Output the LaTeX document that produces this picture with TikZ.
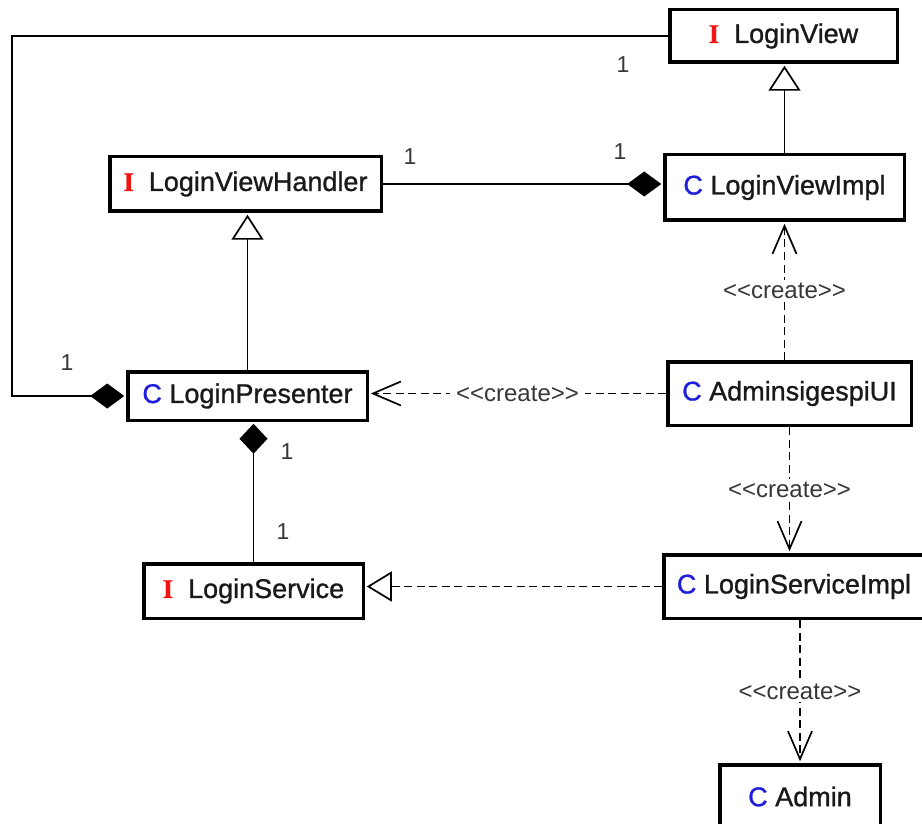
\documentclass[tikz,border=0pt]{standalone}
\usepackage{fontspec}
\setmainfont{Liberation Sans}
\newfontfamily\typefont{Liberation Sans}[FakeBold=1.0]
\newfontfamily\ifacefont{Liberation Serif}[FakeBold=0.6]
\usetikzlibrary{arrows.meta}

\definecolor{ink}{RGB}{25,25,25}
\definecolor{labelgray}{RGB}{55,55,55}
\definecolor{ifacered}{RGB}{240,20,20}
\definecolor{classblue}{RGB}{30,30,220}

% stereotype markers in front of the type names
\newcommand{\IfaceMark}{{\ifacefont\bfseries\color{ifacered}I}\hspace{0.55em}}
\newcommand{\ClassMark}{{\color{classblue}C} }
\newcommand{\CreateTag}{<\kern0pt<create>\kern0pt>}

\tikzset{
  umlbox/.style={draw=black, line width=3.5pt, fill=white, text=ink,
    font=\typefont\fontsize{27}{30}\selectfont, inner sep=0pt, align=center},
  mult/.style={text=labelgray, font=\fontsize{23}{26}\selectfont, inner sep=0pt},
  tag/.style={text=labelgray, fill=white, font=\fontsize{24}{26}\selectfont,
    inner xsep=6pt, inner ysep=3pt},
  conn/.style={line width=1.7pt, shorten >=1.75pt},
  comp/.style={conn, -{Diamond[length=34pt,width=25pt]}},
  vcomp/.style={conn, -{Diamond[length=30pt,width=28pt]}},
  inherit/.style={conn, -{Triangle[open,length=25pt,width=32pt]}},
  realize/.style={conn, dash pattern=on 8pt off 4.5pt, -{Triangle[open,length=25pt,width=30pt]}},
  dep/.style={conn, dash pattern=on 8pt off 4.5pt, -{Straight Barb[length=28pt,width=24pt]}},
}

\begin{document}
\begin{tikzpicture}[x=1pt,y=-1pt]
\useasboundingbox (0,0) rectangle (922,824);

% types
\node[umlbox, minimum width=227.5pt, minimum height=52.5pt] (view) at (783.5,36) {\IfaceMark LoginView};
\node[umlbox, minimum width=271.5pt, minimum height=54.5pt] (handler) at (245.5,184) {\IfaceMark LoginViewHandler};
\node[umlbox, minimum width=239.5pt, minimum height=65.5pt] (impl) at (784.5,187.5) {\ClassMark LoginViewImpl};
\node[umlbox, minimum width=239.5pt, minimum height=48.5pt] (presenter) at (247.5,396) {\ClassMark LoginPresenter};
\node[umlbox, minimum width=243.5pt, minimum height=63.5pt] (ui) at (789.5,393.5) {\ClassMark AdminsigespiUI};
\node[umlbox, minimum width=219.5pt, minimum height=54.5pt] (service) at (253.5,591) {\IfaceMark LoginService};
\node[umlbox, minimum width=260.5pt, minimum height=63.5pt] (serviceimpl) at (794,586.5) {\ClassMark LoginServiceImpl};
\node[umlbox, minimum width=160.5pt, minimum height=63.5pt] (admin) at (800,796.5) {\ClassMark Admin};

% composition LoginView -> LoginPresenter, routed round the left side
\coordinate (loopcorner) at (12,37);
\draw[comp] (view.west) -- (view.west -| loopcorner) -- (loopcorner |- presenter.west) -- (presenter.west);

% composition LoginViewHandler -> LoginViewImpl
\draw[comp] (handler.east) -- (handler.east -| impl.west);

% generalizations
\draw[inherit] (impl.north) -- (impl.north |- view.south);
\draw[inherit] (presenter.north) -- (presenter.north |- handler.south);

% composition LoginService -> LoginPresenter
\draw[vcomp] (service.north) -- (service.north |- presenter.south);

% realization LoginServiceImpl -> LoginService
\draw[realize] (serviceimpl.west) -- (serviceimpl.west -| service.east);

% creation dependencies
\draw[dep] (ui.north -| impl.south) -- node[tag] (c1) {\CreateTag} (impl.south);
\draw[dep] (ui.west) -- node[tag] (c2) {\CreateTag} (ui.west -| presenter.east);
\draw[dep] (ui.south) -- node[tag] (c3) {\CreateTag} (ui.south |- serviceimpl.north);
\draw[dep] (serviceimpl.south -| admin.north) -- node[tag] (c4) {\CreateTag} (admin.north);

% multiplicities
\node[mult] (m1) at (623,65) {1};
\node[mult] (m2) at (67,363) {1};
\node[mult] (m3) at (410,157) {1};
\node[mult] (m4) at (620,152) {1};
\node[mult] (m5) at (287,452) {1};
\node[mult] (m6) at (283,532) {1};
\end{tikzpicture}
\end{document}
